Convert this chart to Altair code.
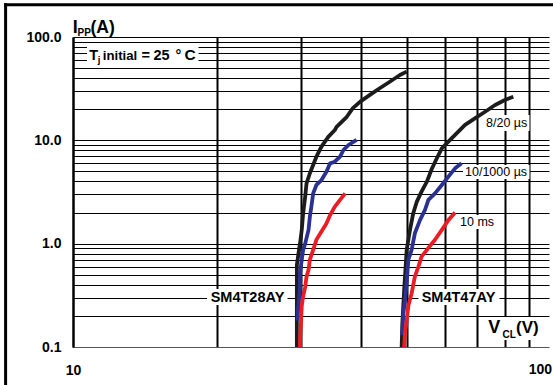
import altair as alt
import pandas as pd

# ---------------- data ----------------
# SM4T28AY
v28_820 = [29.4, 29.4, 29.7, 29.85, 30.1, 30.3, 30.6, 30.8, 31.3, 31.8, 32.3, 33.1, 34.2, 35.3, 35.6, 37.4, 38.5, 39.9, 41.8, 43.9, 46.0, 48.3, 49.9]
i28_820 = [0.1, 0.62, 0.87, 1.0, 1.36, 1.97, 2.85, 3.84, 4.8, 5.77, 6.94, 8.68, 10.8, 12.6, 13.5, 16.9, 20.5, 23.7, 27.5, 32.1, 36.9, 42.9, 46.2]
v28_1000 = [29.5, 29.6, 29.85, 29.85, 30.1, 30.3, 30.6, 31.1, 31.3, 31.6, 31.8, 32.3, 33.1, 33.9, 34.5, 35.3, 36.2, 36.8, 37.7, 39.2]
i28_1000 = [0.18, 0.25, 0.36, 0.52, 0.70, 0.87, 1.0, 1.36, 1.82, 2.46, 3.07, 3.70, 4.13, 4.97, 5.99, 6.21, 6.94, 8.06, 9.01, 10.1]
v28_10ms = [29.85, 29.85, 30.0, 30.1, 30.3, 30.6, 30.8, 31.1, 31.3, 31.8, 32.3, 33.1, 33.9, 34.5, 35.3, 36.2, 37.1]
i28_10ms = [0.1, 0.117, 0.18, 0.25, 0.31, 0.38, 0.48, 0.56, 0.70, 0.87, 1.09, 1.31, 1.57, 1.89, 2.28, 2.65, 3.07]
# SM4T47AY
v47_820 = [48.7, 48.9, 49.3, 49.9, 50.3, 50.7, 51.5, 52.4, 53.6, 55.0, 56.3, 57.7, 59.1, 61.0, 63.0, 66.1, 69.3, 72.8, 76.4, 80.1, 83.4]
i47_820 = [0.1, 0.18, 0.36, 0.87, 1.09, 1.36, 1.97, 2.55, 3.19, 3.98, 5.28, 6.70, 8.37, 9.70, 11.3, 14.1, 16.3, 18.9, 22.0, 24.6, 26.4]
v47_1000 = [48.8, 49.1, 49.5, 49.9, 50.3, 51.1, 51.9, 53.2, 54.5, 55.4, 57.2, 59.1, 61.0, 63.0, 65.0]
i47_1000 = [0.13, 0.21, 0.285, 0.42, 0.70, 0.87, 1.26, 1.69, 2.12, 2.65, 3.07, 3.70, 4.45, 5.36, 5.99]
v47_10ms = [49.3, 49.5, 49.9, 50.3, 51.1, 51.9, 52.8, 53.6, 55.0, 55.8, 57.2, 59.1, 61.0, 63.0]
i47_10ms = [0.1, 0.137, 0.18, 0.25, 0.33, 0.48, 0.60, 0.75, 0.87, 0.95, 1.09, 1.36, 1.69, 2.0]

x_grid = [10, 20, 30, 40, 50, 60, 70, 80, 90]
y_grid = [m * d for d in (0.1, 1, 10) for m in range(1, 10)] + [100]

series = [
    ("SM4T28AY", "8/20", v28_820, i28_820),
    ("SM4T28AY", "10/1000", v28_1000, i28_1000),
    ("SM4T28AY", "10ms", v28_10ms, i28_10ms),
    ("SM4T47AY", "8/20", v47_820, i47_820),
    ("SM4T47AY", "10/1000", v47_1000, i47_1000),
    ("SM4T47AY", "10ms", v47_10ms, i47_10ms),
]
rows = []
for dev, wave, vs, cs in series:
    for k, (v, c) in enumerate(zip(vs, cs)):
        rows.append({"device": dev, "wave": wave, "V": v, "I": c, "k": k})
df = pd.DataFrame(rows)

FONT = "Liberation Sans"
X0, Y0 = 73, 37  # plot origin inside the page
PLOT_W, PLOT_H = 478, 310

xscale = alt.Scale(type="log", domain=[10, 100], nice=False)
yscale = alt.Scale(type="log", domain=[0.1, 100], nice=False)

xaxis = alt.Axis(values=x_grid, grid=True, gridColor="black", gridWidth=2,
                 ticks=False, domainColor="#555", domainWidth=1,
                 labelExpr="datum.value == 10 ? format(datum.value, 'd') : ''",
                 labelFont=FONT, labelFontWeight="bold", labelFontSize=14, labelColor="black",
                 labelPadding=16, labelFlush=False, labelOverlap=False, title=None)
yaxis = alt.Axis(values=y_grid, grid=True, gridColor="black", gridWidth=1,
                 ticks=False, domainColor="black", domainWidth=2,
                 labelExpr="abs(log(datum.value)/LN10 - round(log(datum.value)/LN10)) < 0.001 ? format(datum.value, '.1f') : ''",
                 labelFont=FONT, labelFontWeight="bold", labelFontSize=14, labelColor="black",
                 labelPadding=12, labelFlush=False, labelOverlap=False, title=None)

base = alt.Chart(df)


def curve(wave, color):
    enc = dict(
        x=alt.X("V:Q", scale=xscale, axis=xaxis),
        y=alt.Y("I:Q", scale=yscale, axis=yaxis),
        detail="device:N",
        order="k:Q",
    )
    return base.transform_filter(alt.datum.wave == wave).mark_line(
        color=color, strokeWidth=3.8, strokeJoin="round", strokeCap="butt").encode(**enc)


one = pd.DataFrame({"a": [0]})


def box(x1, y1, x2, y2):
    return alt.Chart(one).mark_rect(color="white").encode(
        x=alt.value(x1 - X0), x2=alt.value(x2 - X0),
        y=alt.value(y1 - Y0), y2=alt.value(y2 - Y0))


def label(text, px, py, size, weight="bold", align="left", baseline="alphabetic"):
    return alt.Chart(one).mark_text(
        font=FONT, fontSize=size, fontWeight=weight, align=align,
        baseline=baseline, color="black").encode(
        x=alt.value(px - X0), y=alt.value(py - Y0), text=alt.value(text))


layers = [
    curve("8/20", "#1c1c1c"),
    curve("10/1000", "#2a3192"),
    curve("10ms", "#ed1c24"),
    # plain right edge (no closing line, as in the cropped reference)
    box(549.5, 30, 553, 360),
    # white label backgrounds
    box(87, 45, 198.5, 66),
    box(207, 289, 287.5, 305),
    box(418.5, 289, 499.5, 305),
    box(484, 115, 529.5, 131),
    box(463, 165, 529.5, 179),
    box(458, 215, 495, 229),
    box(484.5, 317, 545, 340),
    # axis titles
    label("I", 72.7, 33.3, 18),
    label("PP", 77.5, 35.5, 10),
    label("(A)", 90.5, 33.3, 17.5),
    label("V", 488.3, 333.3, 18),
    label("CL", 502.5, 337.5, 10),
    label("(V)", 516, 333.3, 17),
    # right-hand x label, kept inside the page
    label("100", 552, 363, 14, align="right", baseline="top"),
    # junction temperature note
    label("T", 89.3, 59.5, 14.5),
    label("j", 97.8, 62.5, 9.5),
    label("initial", 102.8, 59.5, 13.2),
    label("=", 141.5, 59.5, 14.5),
    label("25", 153.5, 59.5, 14.5),
    label("°", 175.5, 59.5, 14.5),
    label("C", 184.5, 59.5, 15.5),
    # device labels
    label("SM4T28AY", 210.7, 301.7, 14.5),
    label("SM4T47AY", 421.7, 301.7, 14.5),
    # waveform labels
    label("8/20 µs", 486, 123, 12.5, weight="normal", baseline="middle"),
    label("10/1000 µs", 465, 172, 12.5, weight="normal", baseline="middle"),
    label("10 ms", 460, 222.3, 12.5, weight="normal", baseline="middle"),
    # outer frame (top and left edges)
    alt.Chart(one).mark_rule(color="black", strokeWidth=3).encode(
        x=alt.value(4 - X0), x2=alt.value(553 - X0), y=alt.value(4.8 - Y0)),
    alt.Chart(one).mark_rule(color="black", strokeWidth=3).encode(
        x=alt.value(5.6 - X0), y=alt.value(3.3 - Y0), y2=alt.value(385 - Y0)),
]

chart = alt.layer(*layers).properties(
    width=PLOT_W, height=PLOT_H,
    autosize=alt.AutoSizeParams(type="none"),
    padding={"left": 73, "top": 37, "right": 2, "bottom": 38},
    background="white",
).configure_view(stroke="transparent", strokeWidth=0)

chart.save("out.html", embed_options={"renderer": "svg", "actions": False})
